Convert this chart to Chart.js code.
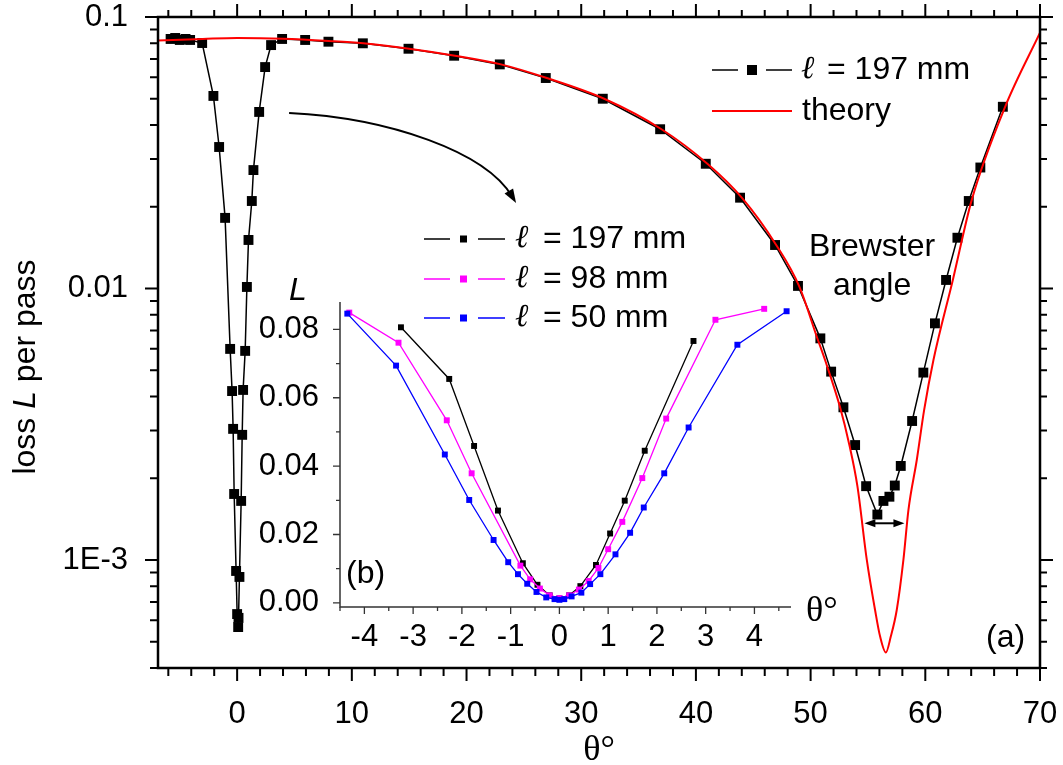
<!DOCTYPE html>
<html>
<head>
<meta charset="utf-8">
<script src="https://cdn.jsdelivr.net/npm/chart.js@4.4.1/dist/chart.umd.min.js"></script>
<style>
  html, body { margin: 0; padding: 0; background: #fff; }
  #wrap { position: relative; width: 1063px; height: 765px; }
  #wrap canvas { position: absolute; left: 0; top: 0; }
</style>
</head>
<body>
<div id="wrap">
  <canvas id="main" width="1063" height="765"></canvas>
  <canvas id="inset" width="1063" height="765"></canvas>
</div>
<script>
// (a) loss per pass vs angle, l = 197 mm
const thetaMeasured = [-5.8, -5.4, -5.0, -4.5, -4.1, -3.05, -2.07, -1.57, -1.05, -0.61, -0.44, -0.35, -0.26, -0.09, 0, 0.09,
  0.12, 0.2, 0.35, 0.44, 0.52, 0.7, 0.85, 0.99, 1.28, 1.42, 1.92, 2.44, 2.96, 3.92, 5.93, 7.96, 10.96, 14.94, 18.92,
  22.9, 26.91, 31.88, 36.88, 40.86, 43.85, 46.9, 48.9, 50.85, 51.79, 52.86, 53.88, 54.84, 55.82, 56.35, 56.87, 57.34,
  57.86, 58.85, 59.83, 60.84, 61.81, 62.8, 63.79, 64.8, 66.76];
const lossMeasured = [0.083, 0.0837, 0.0823, 0.083, 0.0823, 0.0802, 0.0512, 0.0332, 0.0182, 0.00599, 0.00419, 0.00304,
  0.00175, 0.000911, 0.000632, 0.000566, 0.000612, 0.000866, 0.00165, 0.00289, 0.00423, 0.00589, 0.01013, 0.01509,
  0.021, 0.0273, 0.0447, 0.0654, 0.0788, 0.083, 0.0823, 0.0811, 0.08, 0.0764, 0.072, 0.0669, 0.0596, 0.05, 0.0386,
  0.0288, 0.0216, 0.01446, 0.01022, 0.00655, 0.00494, 0.00365, 0.00265, 0.00187, 0.00147, 0.00165, 0.00171, 0.00188,
  0.00222, 0.00325, 0.0049, 0.00744, 0.01075, 0.01538, 0.021, 0.0279, 0.0467];

const thetaTheory = [-6.9, -3, 0, 4, 8, 11, 15, 19, 23, 27, 32, 37, 41, 44, 47, 49, 50.6, 51.26, 52.57, 53.38, 54.08,
  54.9, 55.62, 56.06, 56.56, 56.99, 57.51, 58.09, 58.53, 59.26, 59.9, 60.71, 62.4, 64.05, 66.96, 70];
const lossTheory = [0.0819, 0.083, 0.0837, 0.0832, 0.0816, 0.08, 0.0764, 0.072, 0.0669, 0.0596, 0.05, 0.0386, 0.0288,
  0.0216, 0.01446, 0.0102, 0.00653, 0.00545, 0.00365, 0.00265, 0.00187, 0.001, 0.000654, 0.000522, 0.000456, 0.000522,
  0.000654, 0.001, 0.00153, 0.00234, 0.00357, 0.00545, 0.01075, 0.0212, 0.0467, 0.0875];

const xTicks = [0, 10, 20, 30, 40, 50, 60, 70];
const yTicks = [0.001, 0.01, 0.1];
const yTickLabels = ['1E-3', '0.01', '0.1'];

// (b) linear zoom around normal incidence for three lengths
const theta197 = [-3.25, -2.26, -1.75, -1.26, -0.75, -0.45, -0.2, 0, 0.2, 0.43, 0.75, 1.04, 1.34, 1.75, 2.75];
const loss197 = [0.0806, 0.0655, 0.0459, 0.027, 0.0116, 0.0053, 0.0022, 0.0013, 0.0022, 0.0049, 0.0111, 0.0203,
  0.0299, 0.0445, 0.0766];
const theta98 = [-4.31, -3.3, -2.31, -1.8, -0.8, -0.6, -0.4, -0.2, 0, 0.2, 0.4, 0.6, 0.8, 1.0, 1.29, 1.7, 2.19, 3.2, 4.2];
const loss98 = [0.0849, 0.0761, 0.0534, 0.0379, 0.0109, 0.0069, 0.0042, 0.0022, 0.0014, 0.0022, 0.0039, 0.0064,
  0.0102, 0.0157, 0.0237, 0.0365, 0.0539, 0.0828, 0.086];
const theta50 = [-4.35, -3.35, -2.35, -1.85, -1.35, -1.05, -0.85, -0.66, -0.47, -0.27, -0.1, 0, 0.1, 0.25, 0.45,
  0.63, 0.84, 1.15, 1.45, 1.73, 2.15, 2.65, 3.65, 4.66];
const loss50 = [0.0846, 0.0694, 0.0434, 0.0301, 0.0184, 0.0119, 0.0084, 0.0056, 0.0032, 0.0016, 0.0011, 0.0009,
  0.0011, 0.0019, 0.003, 0.0055, 0.0084, 0.0142, 0.0205, 0.0279, 0.0379, 0.0513, 0.0755, 0.0853];

const insetXTicks = [-4, -3, -2, -1, 0, 1, 2, 3, 4];
const insetYTicks = [0, 0.02, 0.04, 0.06, 0.08];

const SANS = '"Liberation Sans", Arial, Helvetica, sans-serif';
const SERIF = '"Liberation Serif", "Times New Roman", serif';

function toPoints(xs, ys) {
  return xs.map((x, i) => ({ x: x, y: ys[i] }));
}

// minor tick positions
const xMinor = [];
for (let v = -6; v <= 68; v += 2) if (v % 10 !== 0) xMinor.push(v);
const yMinor = [];
for (let e = -4; e <= -2; e++) {
  for (let m = 2; m <= 9; m++) {
    const v = m * Math.pow(10, e);
    if (v >= 4e-4 && v <= 0.1) yMinor.push(v);
  }
}
const insetXMinor = [];
for (let v = -4.5; v <= 4.5; v += 1) insetXMinor.push(v);
const insetYMinor = [0.01, 0.03, 0.05, 0.07];

// keep tick labels from pushing the plot area inwards
function noOverflow(s) {
  s.paddingLeft = 0;
  s.paddingRight = 0;
  s.paddingTop = 0;
  s.paddingBottom = 0;
}

function tickMarks(ctx, scale, values, from, len, horizontal) {
  values.forEach(v => {
    const p = scale.getPixelForValue(v);
    if (horizontal) { ctx.moveTo(p, from); ctx.lineTo(p, from + len); }
    else { ctx.moveTo(from, p); ctx.lineTo(from + len, p); }
  });
}

function arrowHead(ctx, x, y, angle, len, half) {
  const c = Math.cos(angle), s = Math.sin(angle);
  ctx.beginPath();
  ctx.moveTo(x, y);
  ctx.lineTo(x - len * c + half * s, y - len * s - half * c);
  ctx.lineTo(x - len * c - half * s, y - len * s + half * c);
  ctx.closePath();
  ctx.fill();
}

// "ℓ = ..." legend entry with line/square sample
function legendRow(ctx, o) {
  ctx.save();
  ctx.strokeStyle = o.color;
  ctx.fillStyle = o.color;
  ctx.lineWidth = o.lineWidth;
  ctx.beginPath();
  o.segments.forEach(s => { ctx.moveTo(s[0], o.y); ctx.lineTo(s[1], o.y); });
  ctx.stroke();
  if (o.square) ctx.fillRect(o.squareX - o.square / 2, o.y - o.square / 2, o.square, o.square);
  ctx.fillStyle = '#000';
  ctx.textBaseline = 'middle';
  ctx.textAlign = 'left';
  if (o.ell) {
    ctx.font = 'italic ' + o.size + 'px ' + SERIF;
    ctx.fillText('\u2113', o.textX, o.y);
    ctx.font = o.size + 'px ' + SANS;
    ctx.fillText(o.label, o.textX + o.ellGap, o.y);
  } else {
    ctx.font = o.size + 'px ' + SANS;
    ctx.fillText(o.label, o.textX, o.y);
  }
  ctx.restore();
}

const mainDecor = {
  id: 'mainDecor',
  afterDatasetsDraw(chart) {
    const { ctx, chartArea: a, scales: { x, y } } = chart;
    ctx.save();
    // frame and ticks on all four sides
    ctx.strokeStyle = '#000';
    ctx.lineWidth = 2.5;
    ctx.strokeRect(a.left, a.top, a.right - a.left, a.bottom - a.top);
    ctx.lineWidth = 2;
    ctx.beginPath();
    tickMarks(ctx, x, xTicks, a.bottom, 13, true);
    tickMarks(ctx, x, xMinor, a.bottom, 8, true);
    tickMarks(ctx, x, xTicks, a.top, -13, true);
    tickMarks(ctx, x, xMinor, a.top, -7, true);
    tickMarks(ctx, y, yTicks, a.left, -13, false);
    tickMarks(ctx, y, yMinor, a.left, -8, false);
    tickMarks(ctx, y, yTicks, a.right, 13, false);
    tickMarks(ctx, y, yMinor, a.right, 7, false);
    ctx.stroke();

    // axis titles
    ctx.fillStyle = '#000';
    ctx.textBaseline = 'alphabetic';
    ctx.font = '36px ' + SERIF;
    ctx.textAlign = 'center';
    ctx.fillText('\u03b8\u00b0', (a.left + a.right) / 2, 760);

    ctx.save();
    ctx.translate(35, 367);
    ctx.rotate(-Math.PI / 2);
    const parts = [['loss ', '32px ' + SANS], ['L', 'italic 32px ' + SANS], [' per pass', '32px ' + SANS]];
    let total = 0;
    parts.forEach(p => { ctx.font = p[1]; total += ctx.measureText(p[0]).width; });
    let cx = -total / 2;
    ctx.textAlign = 'left';
    parts.forEach(p => { ctx.font = p[1]; ctx.fillText(p[0], cx, 0); cx += ctx.measureText(p[0]).width; });
    ctx.restore();

    // legend
    legendRow(ctx, { y: 70, color: '#000', lineWidth: 1.5, segments: [[712, 738], [766, 792]],
      square: 10, squareX: 752, textX: 801, ell: true, ellGap: 26, label: '= 197 mm', size: 32 });
    legendRow(ctx, { y: 111, color: '#ff0000', lineWidth: 2, segments: [[712, 792]],
      square: 0, textX: 802, ell: false, label: 'theory', size: 32 });

    // annotations
    ctx.font = '32px ' + SANS;
    ctx.textAlign = 'center';
    ctx.fillText('Brewster', x.getPixelForValue(55.36), y.getPixelForValue(0.01318));
    ctx.fillText('angle', x.getPixelForValue(55.36), y.getPixelForValue(0.0095));
    ctx.textAlign = 'right';
    ctx.textBaseline = 'middle';
    ctx.fillText('(a)', x.getPixelForValue(68.7), y.getPixelForValue(0.000516));

    // double arrow marking the width of the dip
    const ay = y.getPixelForValue(0.001365);
    const ax1 = x.getPixelForValue(54.69), ax2 = x.getPixelForValue(58.18);
    ctx.lineWidth = 2;
    ctx.beginPath();
    ctx.moveTo(ax1 + 6, ay);
    ctx.lineTo(ax2 - 6, ay);
    ctx.stroke();
    ctx.fillStyle = '#000';
    arrowHead(ctx, ax1, ay, Math.PI, 11, 4);
    arrowHead(ctx, ax2, ay, 0, 11, 4);

    // curved arrow pointing to the inset
    const p0 = [x.getPixelForValue(4.53), y.getPixelForValue(0.04429)];
    const c1 = [x.getPixelForValue(13.34), y.getPixelForValue(0.04246)];
    const c2 = [x.getPixelForValue(21.62), y.getPixelForValue(0.03183)];
    const p1 = [x.getPixelForValue(24.32), y.getPixelForValue(0.02065)];
    const ang = Math.atan2(p1[1] - c2[1], p1[0] - c2[0]);
    ctx.beginPath();
    ctx.moveTo(p0[0], p0[1]);
    ctx.bezierCurveTo(c1[0], c1[1], c2[0], c2[1], p1[0] - 8 * Math.cos(ang), p1[1] - 8 * Math.sin(ang));
    ctx.stroke();
    arrowHead(ctx, p1[0], p1[1], ang, 14, 5);
    ctx.restore();
  }
};

new Chart(document.getElementById('main'), {
  type: 'scatter',
  data: {
    datasets: [
      {
        label: 'theory',
        data: toPoints(thetaTheory, lossTheory),
        showLine: true,
        borderColor: '#ff0000',
        borderWidth: 2,
        pointRadius: 0,
        cubicInterpolationMode: 'monotone',
        order: 0
      },
      {
        label: '\u2113 = 197 mm',
        data: toPoints(thetaMeasured, lossMeasured),
        showLine: true,
        borderColor: '#000',
        borderWidth: 1.5,
        pointStyle: 'rect',
        pointRadius: 7,
        pointBackgroundColor: '#000',
        pointBorderWidth: 0,
        order: 1
      }
    ]
  },
  options: {
    responsive: false,
    animation: false,
    devicePixelRatio: 1,
    layout: { padding: { top: 17, right: 23, left: 0, bottom: 0 } },
    plugins: { legend: { display: false }, tooltip: { enabled: false } },
    scales: {
      x: {
        type: 'linear',
        min: -6.9,
        max: 70,
        grid: { display: false },
        border: { display: false },
        afterBuildTicks: s => { s.ticks = xTicks.map(v => ({ value: v })); },
        afterFit: s => { s.height = 97; noOverflow(s); },
        ticks: { color: '#000', font: { family: SANS, size: 31 }, padding: 20, maxRotation: 0, autoSkip: false }
      },
      y: {
        type: 'logarithmic',
        min: 4e-4,
        max: 0.1,
        grid: { display: false },
        border: { display: false },
        afterBuildTicks: s => { s.ticks = yTicks.map(v => ({ value: v })); },
        afterFit: s => { s.width = 158; noOverflow(s); },
        ticks: {
          color: '#000',
          font: { family: SANS, size: 31 },
          padding: 22,
          autoSkip: false,
          callback: v => { const i = yTicks.indexOf(v); return i < 0 ? '' : yTickLabels[i]; }
        }
      }
    }
  },
  plugins: [mainDecor]
});

const insetDecor = {
  id: 'insetDecor',
  afterDatasetsDraw(chart) {
    const { ctx, chartArea: a, scales: { x, y } } = chart;
    ctx.save();
    ctx.strokeStyle = '#333';
    ctx.lineWidth = 1.5;
    ctx.beginPath();
    ctx.moveTo(a.left, a.top);
    ctx.lineTo(a.left, a.bottom);
    ctx.lineTo(a.right, a.bottom);
    ctx.stroke();
    ctx.lineWidth = 1.3;
    ctx.beginPath();
    tickMarks(ctx, x, insetXTicks, a.bottom, 7, true);
    tickMarks(ctx, x, insetXMinor, a.bottom, 4, true);
    tickMarks(ctx, y, insetYTicks, a.left, -7, false);
    tickMarks(ctx, y, insetYMinor, a.left, -4, false);
    ctx.stroke();

    ctx.fillStyle = '#000';
    ctx.textBaseline = 'alphabetic';
    ctx.textAlign = 'left';
    ctx.font = 'italic 32px ' + SANS;
    ctx.fillText('L', 289, 300);
    ctx.font = '32px ' + SANS;
    ctx.textBaseline = 'middle';
    ctx.fillText('(b)', 346, 574);
    ctx.font = '36px ' + SERIF;
    ctx.textBaseline = 'alphabetic';
    ctx.fillText('\u03b8\u00b0', 806, 621);

    const rows = [['= 197 mm', '#000', 239], ['= 98 mm', '#ff00ff', 279], ['= 50 mm', '#0000ff', 318]];
    rows.forEach(r => {
      legendRow(ctx, { y: r[2], color: r[1], lineWidth: 1.3, segments: [[424, 450], [478, 505]],
        square: 7, squareX: 463.5, textX: 515, ell: true, ellGap: 28, label: r[0], size: 32 });
    });
    ctx.restore();
  }
};

function insetSeries(label, xs, ys, color, order) {
  return {
    label: label,
    data: toPoints(xs, ys),
    showLine: true,
    borderColor: color,
    borderWidth: 1.3,
    pointStyle: 'rect',
    pointRadius: 4.2,
    pointBackgroundColor: color,
    pointBorderWidth: 0,
    order: order
  };
}

new Chart(document.getElementById('inset'), {
  type: 'scatter',
  data: {
    datasets: [
      insetSeries('\u2113 = 197 mm', theta197, loss197, '#000', 2),
      insetSeries('\u2113 = 98 mm', theta98, loss98, '#ff00ff', 1),
      insetSeries('\u2113 = 50 mm', theta50, loss50, '#0000ff', 0)
    ]
  },
  options: {
    responsive: false,
    animation: false,
    devicePixelRatio: 1,
    layout: { padding: { left: 250, top: 302, right: 272, bottom: 98 } },
    plugins: { legend: { display: false }, tooltip: { enabled: false } },
    scales: {
      x: {
        type: 'linear',
        min: -4.5,
        max: 4.75,
        grid: { display: false },
        border: { display: false },
        afterBuildTicks: s => { s.ticks = insetXTicks.map(v => ({ value: v })); },
        afterFit: s => { s.height = 60; noOverflow(s); },
        ticks: { color: '#000', font: { family: SANS, size: 31 }, padding: 4, maxRotation: 0, autoSkip: false }
      },
      y: {
        type: 'linear',
        min: -0.0012,
        max: 0.088,
        grid: { display: false },
        border: { display: false },
        afterBuildTicks: s => { s.ticks = insetYTicks.map(v => ({ value: v })); },
        afterFit: s => { s.width = 90; noOverflow(s); },
        ticks: { color: '#000', font: { family: SANS, size: 31 }, padding: 13, autoSkip: false,
          callback: v => v.toFixed(2) }
      }
    }
  },
  plugins: [insetDecor]
});
</script>
</body>
</html>
